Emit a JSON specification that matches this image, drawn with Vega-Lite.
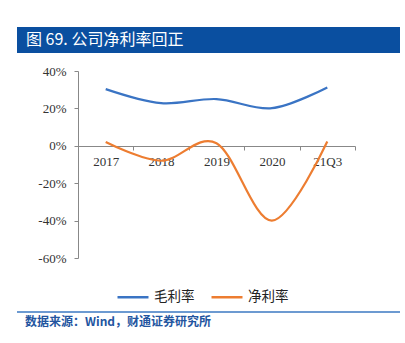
{
  "$schema": "https://vega.github.io/schema/vega-lite/v6.json",
  "width": 277,
  "height": 187,
  "autosize": "none",
  "padding": {"left": 78, "top": 71, "right": 50, "bottom": 85},
  "background": "white",
  "config": {"view": {"stroke": null}, "font": "Liberation Serif"},
  "datasets": {
    "main": [
      {"period": "2017", "series": "毛利率", "value": 30.3},
      {"period": "2018", "series": "毛利率", "value": 22.8},
      {"period": "2019", "series": "毛利率", "value": 25.0},
      {"period": "2020", "series": "毛利率", "value": 20.1},
      {"period": "21Q3", "series": "毛利率", "value": 31.2},
      {"period": "2017", "series": "净利率", "value": 2.0},
      {"period": "2018", "series": "净利率", "value": -8.0},
      {"period": "2019", "series": "净利率", "value": 1.4},
      {"period": "2020", "series": "净利率", "value": -40.0},
      {"period": "21Q3", "series": "净利率", "value": 2.3}
    ],
    "deco": [{"t": "图 69. 公司净利率回正", "s": "数据来源：Wind，财通证券研究所"}]
  },
  "layer": [
    {
      "data": {"name": "deco"},
      "mark": {"type": "rect", "color": "#0A4FA0"},
      "encoding": {"x": {"value": -61}, "x2": {"value": 322}, "y": {"value": -44}, "y2": {"value": -18}}
    },
    {
      "data": {"name": "deco"},
      "mark": {"type": "text", "color": "white", "font": "Noto Sans CJK SC", "fontSize": 16, "fontWeight": "normal", "align": "left", "baseline": "middle"},
      "encoding": {"x": {"value": -52}, "y": {"value": -31}, "text": {"field": "t"}}
    },
    {
      "data": {"name": "deco"},
      "mark": {"type": "rule", "color": "#3B78C2", "strokeWidth": 1.5},
      "encoding": {"x": {"value": -61}, "x2": {"value": 322}, "y": {"value": 241}}
    },
    {
      "data": {"name": "deco"},
      "mark": {"type": "text", "color": "#23559F", "font": "Noto Sans CJK SC", "fontSize": 12, "fontWeight": "bold", "align": "left", "baseline": "middle"},
      "encoding": {"x": {"value": -53}, "y": {"value": 251}, "text": {"field": "s"}}
    },
    {
      "data": {"name": "main"},
      "mark": {"type": "line", "interpolate": "cardinal", "strokeWidth": 2.2},
      "encoding": {
        "x": {
          "field": "period", "type": "ordinal", "sort": null, "bandPosition": 0.5,
          "scale": {"type": "band", "paddingInner": 0, "paddingOuter": 0},
          "axis": {"title": null, "offset": -112, "tickBand": "extent", "labelAngle": 0, "domainColor": "#888888", "tickColor": "#888888", "tickSize": 4, "labelPadding": 5, "labelFontSize": 13, "labelColor": "#333333", "labelFont": "Liberation Serif"}
        },
        "y": {
          "field": "value", "type": "quantitative",
          "scale": {"domain": [-60, 40]},
          "axis": {"title": null, "values": [-60, -40, -20, 0, 20, 40], "labelExpr": "datum.value + '%'", "grid": false, "domainColor": "#888888", "tickColor": "#888888", "tickSize": 4, "labelFontSize": 13, "labelColor": "#333333", "labelFont": "Liberation Serif", "labelPadding": 8}
        },
        "color": {
          "field": "series", "type": "nominal",
          "scale": {"domain": ["毛利率", "净利率"], "range": ["#3A74C4", "#ED7D31"]},
          "legend": {"orient": "none", "legendX": 38, "legendY": 209, "direction": "horizontal", "title": null, "symbolType": "stroke", "symbolSize": 961, "symbolStrokeWidth": 2.5, "labelFont": "Noto Sans CJK SC", "labelFontSize": 13.5, "labelColor": "#222222", "columnPadding": 11}
        }
      }
    }
  ]
}
